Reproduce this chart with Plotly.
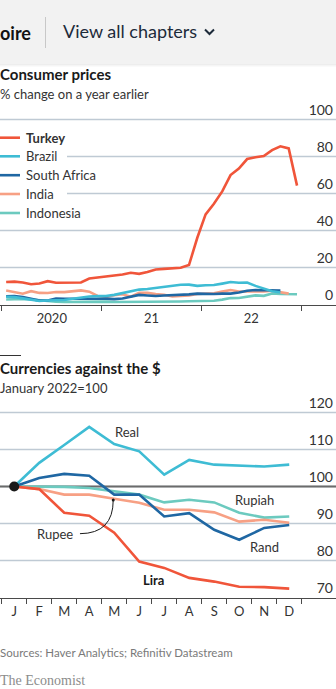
import plotly.graph_objects as go

W, H = 336, 689
FONT = "Lato"

# ---------------- data ----------------
turkey = [12.15, 12.37, 11.86, 10.94, 11.39, 12.62, 11.76, 11.77, 11.75, 11.89, 14.03, 14.60,
          14.97, 15.61, 16.19, 17.14, 16.59, 17.53, 18.95, 19.25, 19.58, 19.89, 21.31, 36.08,
          48.69, 54.44, 61.14, 69.97, 73.50, 78.62, 79.60, 80.21, 83.45, 85.51, 84.39, 64.27]
brazil = [4.19, 4.01, 3.30, 2.40, 1.88, 2.13, 2.31, 2.44, 3.14, 3.92, 4.31, 4.52,
          4.56, 5.20, 6.10, 6.76, 8.06, 8.35, 8.99, 9.68, 10.25, 10.67, 10.74, 10.06,
          10.38, 10.54, 11.30, 12.13, 11.73, 11.89, 10.07, 8.73, 7.17, 6.47]
south_africa = [4.5, 4.6, 4.1, 3.0, 2.1, 2.2, 3.2, 3.1, 3.0, 3.3, 3.2, 3.1,
                3.2, 2.9, 3.2, 4.4, 5.2, 4.9, 4.6, 4.9, 5.0, 5.0, 5.5, 5.9,
                5.7, 5.7, 5.9, 5.9, 6.5, 7.4, 7.8, 7.6, 7.5, 7.6]
india = [7.59, 6.58, 5.84, 7.22, 6.27, 6.23, 6.73, 6.69, 7.27, 7.61, 6.93, 4.59,
         4.06, 5.03, 5.52, 4.23, 6.30, 6.26, 5.59, 5.30, 4.35, 4.48, 4.91, 5.66,
         6.01, 6.07, 6.95, 7.79, 7.04, 7.01, 6.71, 7.00, 7.41, 6.77, 5.88]
indonesia = [2.68, 2.98, 2.96, 2.67, 2.19, 1.96, 1.54, 1.32, 1.42, 1.44, 1.59, 1.68,
             1.55, 1.38, 1.37, 1.42, 1.68, 1.33, 1.52, 1.59, 1.60, 1.66, 1.75, 1.87,
             2.18, 2.06, 2.64, 3.47, 3.55, 4.35, 4.94, 4.69, 5.95, 5.71, 5.42, 5.51]
year_labels = ["2020", "21", "22"]
cpi_yticks = [0, 20, 40, 60, 80, 100]

month_labels = ["J", "F", "M", "A", "M", "J", "J", "A", "S", "O", "N", "D"]
real = [100, 106.4, 111.2, 116.1, 111.5, 109.5, 103.2, 107.2, 105.9, 105.6, 105.4, 105.9]
rupiah = [100, 100.0, 99.9, 99.6, 98.6, 97.8, 95.7, 96.4, 95.7, 92.9, 91.6, 91.9]
rupee = [100, 99.3, 97.8, 97.8, 96.7, 95.6, 93.7, 93.7, 93.0, 90.5, 91.0, 90.2]
rand = [100, 102.3, 103.4, 102.9, 97.8, 97.8, 91.9, 92.8, 88.3, 85.6, 88.8, 89.6]
lira = [100, 99.3, 92.9, 92.1, 87.5, 79.7, 78.0, 75.3, 74.3, 72.9, 72.8, 72.4]
fx_yticks = [70, 80, 90, 100, 110, 120]
fx_base = 100

# ---------------- styles ----------------
C_TURKEY = "#f0553a"
C_BRAZIL = "#3ebcd4"
C_SA = "#1f67a3"
C_INDIA = "#f7a084"
C_INDO = "#6ccabf"
GRID = "#bfcad4"
AXIS = "#4a4a4a"
TXT = "#333333"

TOP_Y0_PX, TOP_PX_PER_UNIT = 304.5, 37 / 20
BOT_Y70_PX, BOT_PX_PER_UNIT = 597.5, 37 / 10
X1_RANGE = [-0.24, 40.19]
X2_RANGE = [-0.068, 13.37]
LEGEND_RIGHT_PX = 67


def py(p):
    return 1 - p / H


def px(p):
    return p / W


def mpos(n):
    return [i + 0.5 for i in range(n)]


def x1_at_px(p):
    return X1_RANGE[0] + p / W * (X1_RANGE[1] - X1_RANGE[0])


fig = go.Figure()

# gridlines (as thin line traces beneath the data)
for v in cpi_yticks[1:]:
    x0 = x1_at_px(LEGEND_RIGHT_PX) if v in (60, 80) else X1_RANGE[0]
    fig.add_trace(go.Scatter(x=[x0, X1_RANGE[1]], y=[v, v], mode="lines",
                             line=dict(color=GRID, width=1.3), xaxis="x", yaxis="y",
                             showlegend=False, hoverinfo="skip"))
for v in fx_yticks[1:]:
    fig.add_trace(go.Scatter(x=X2_RANGE, y=[v, v], mode="lines",
                             line=dict(color=GRID, width=1.3), xaxis="x2", yaxis="y2",
                             showlegend=False, hoverinfo="skip"))

top_series = [
    ("Indonesia", indonesia, C_INDO),
    ("India", india, C_INDIA),
    ("South Africa", south_africa, C_SA),
    ("Brazil", brazil, C_BRAZIL),
    ("Turkey", turkey, C_TURKEY),
]
for name, vals, col in top_series:
    fig.add_trace(go.Scatter(x=mpos(len(vals)), y=vals, mode="lines", name=name,
                             line=dict(color=col, width=2.6), xaxis="x", yaxis="y",
                             showlegend=False, hoverinfo="skip"))

fig.add_trace(go.Scatter(x=X2_RANGE, y=[fx_base, fx_base], mode="lines",
                         line=dict(color="#6b6b6b", width=2), xaxis="x2", yaxis="y2",
                         showlegend=False, hoverinfo="skip"))
fx_series = [
    ("Real", real, C_BRAZIL),
    ("Rupiah", rupiah, C_INDO),
    ("Rupee", rupee, C_INDIA),
    ("Rand", rand, C_SA),
    ("Lira", lira, C_TURKEY),
]
for name, vals, col in fx_series:
    fig.add_trace(go.Scatter(x=mpos(len(vals)), y=vals, mode="lines", name=name,
                             line=dict(color=col, width=2.6), xaxis="x2", yaxis="y2",
                             showlegend=False, hoverinfo="skip"))
fig.add_trace(go.Scatter(x=[0.5], y=[real[0]], mode="markers",
                         marker=dict(color="#1a1a1a", size=10), xaxis="x2", yaxis="y2",
                         showlegend=False, hoverinfo="skip"))
fig.add_trace(go.Scatter(x=[4.46], y=[96.35], mode="markers",
                         marker=dict(color="#1a1a1a", size=3), xaxis="x2", yaxis="y2",
                         showlegend=False, hoverinfo="skip"))

# ---------------- axes ----------------
xaxis_common = dict(showgrid=False, zeroline=False, showline=True, linecolor=AXIS, linewidth=1,
                    ticks="outside", ticklen=2, tickcolor="rgba(0,0,0,0)",
                    tickfont=dict(family=FONT, size=13, color=TXT), fixedrange=True)
yaxis_common = dict(side="right", showgrid=False, zeroline=False,
                    showline=False, ticks="", ticklabelposition="inside top",
                    tickfont=dict(family=FONT, size=14, color=TXT), fixedrange=True)

top_max = 100 + 28 / TOP_PX_PER_UNIT
bot_max = 120 + 28 / BOT_PX_PER_UNIT
top_top_px = TOP_Y0_PX - top_max * TOP_PX_PER_UNIT
bot_top_px = BOT_Y70_PX - (bot_max - 70) * BOT_PX_PER_UNIT

fig.update_layout(
    width=W, height=H, margin=dict(l=0, r=0, t=0, b=0),
    paper_bgcolor="white", plot_bgcolor="white",
    xaxis=dict(domain=[0, 1], range=X1_RANGE, anchor="y",
               tickmode="array", tickvals=[6, 18, 30], ticktext=year_labels,
               minor=dict(tickmode="array", tickvals=[0, 12, 24, 36], ticks="outside",
                          ticklen=5, tickwidth=1, tickcolor=AXIS, showgrid=False),
               **xaxis_common),
    yaxis=dict(domain=[py(TOP_Y0_PX), py(top_top_px)], range=[0, top_max], anchor="x",
               tickmode="array", tickvals=cpi_yticks, **yaxis_common),
    xaxis2=dict(domain=[0, 1], range=X2_RANGE, anchor="y2",
                tickmode="array", tickvals=[i + 0.5 for i in range(12)], ticktext=month_labels,
                minor=dict(tickmode="array", tickvals=list(range(13)), ticks="outside",
                           ticklen=5, tickwidth=1, tickcolor=AXIS, showgrid=False),
                **xaxis_common),
    yaxis2=dict(domain=[py(BOT_Y70_PX), py(bot_top_px)], range=[70, bot_max], anchor="x2",
                tickmode="array", tickvals=fx_yticks, **yaxis_common),
)

shapes = []
shapes.append(dict(type="rect", xref="paper", yref="paper", x0=0, x1=1, y0=py(64), y1=1,
                   fillcolor="#f2f2f2", line=dict(width=0), layer="below"))
for i, a in enumerate([0.07, 0.04, 0.02]):
    shapes.append(dict(type="rect", xref="paper", yref="paper", x0=0, x1=1,
                       y0=py(65 + i), y1=py(64 + i), fillcolor=f"rgba(0,0,0,{a})",
                       line=dict(width=0), layer="below"))
shapes.append(dict(type="line", xref="paper", yref="paper", x0=px(45.5), x1=px(45.5),
                   y0=py(17), y1=py(48), line=dict(color="#c8c8c8", width=1)))
shapes.append(dict(type="path", xref="paper", yref="paper",
                   path=f"M {px(205)},{py(29.5)} L {px(209.5)},{py(34)} L {px(214)},{py(29.5)}",
                   line=dict(color="#1d2b3a", width=2)))
legend_rows = [("<b>Turkey</b>", C_TURKEY, 137.7), ("Brazil", C_BRAZIL, 156.3),
               ("South Africa", C_SA, 175.2), ("India", C_INDIA, 194.0),
               ("Indonesia", C_INDO, 213.0)]
for label, col, yp in legend_rows:
    shapes.append(dict(type="line", xref="paper", yref="paper", x0=0, x1=px(20),
                       y0=py(yp), y1=py(yp), line=dict(color=col, width=2.6), layer="above"))
shapes.append(dict(type="line", xref="paper", yref="paper", x0=0, x1=px(21),
                   y0=py(355.5), y1=py(355.5), line=dict(color="#333333", width=1)))
shapes.append(dict(type="path", xref="x2", yref="y2",
                   path="M 3.13,87.25 Q 4.46,87.3 4.46,96.35",
                   line=dict(color="#1a1a1a", width=1)))
fig.update_layout(shapes=shapes)

ann = []


def txt(text, x, y, size, color=TXT, xanchor="left", family=FONT, xref="paper", yref="paper"):
    ann.append(dict(text=text, x=x, y=y, xref=xref, yref=yref, xanchor=xanchor,
                    yanchor="middle", showarrow=False,
                    font=dict(family=family, size=size, color=color), borderpad=0))


txt("<b>oire</b>", px(-1), py(33), 18, color="#121212")
txt("View all chapters", px(62), py(31), 18, color="#1d2b3a")
txt("<b>Consumer prices</b>", px(-1), py(74), 15, color="#1a1a1a")
txt("% change on a year earlier", px(-1), py(94), 13, color=TXT)
for label, col, yp in legend_rows:
    txt(label, px(25), py(yp), 13, color=TXT)
txt("<b>Currencies against the $</b>", px(-1), py(368.5), 15, color="#1a1a1a")
txt("January 2022=100", px(-1), py(388), 13, color=TXT)
txt("Real", 5.0, 114.8, 13, xanchor="center", xref="x2", yref="y2")
txt("Rupiah", 10.13, 96.3, 13, xanchor="center", xref="x2", yref="y2")
txt("Rand", 10.53, 83.6, 13, xanchor="center", xref="x2", yref="y2")
txt("<b>Lira</b>", 6.09, 74.6, 13, color="#1a1a1a", xanchor="center", xref="x2", yref="y2")
txt("Rupee", 2.13, 87.1, 13, xanchor="center", xref="x2", yref="y2")
txt("Sources: Haver Analytics; Refinitiv Datastream", px(-1), py(652), 11.5, color="#7a7a7a")
txt("The Economist", px(-1), py(680), 14, color="#8c8c8c", family="Liberation Serif")
fig.update_layout(annotations=ann)

fig.write_html("out.html", config={"displayModeBar": False})
